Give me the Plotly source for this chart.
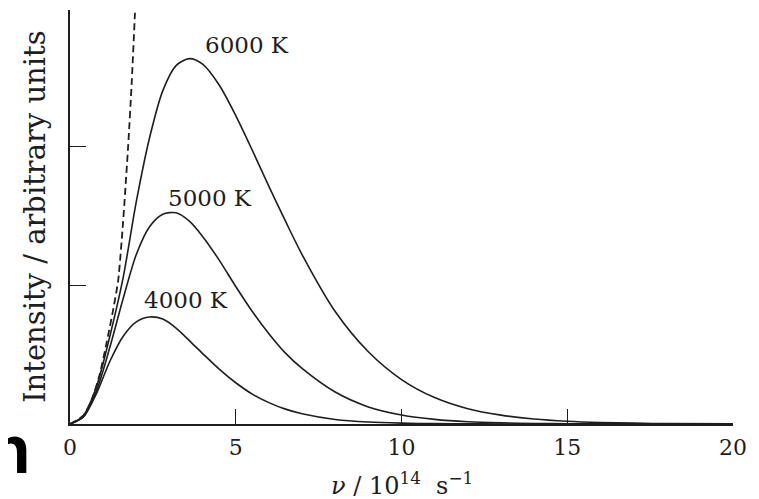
import plotly.graph_objects as go

# frequency grid (10^14 s^-1) and intensities (arbitrary units)
nu = [0, 0.4, 0.8, 1.2, 1.6, 2.0, 2.4, 2.8, 3.2, 3.6, 4.0, 4.5, 5.0, 5.5, 6.0,
      6.5, 7.0, 8.0, 9.0, 10, 11, 12, 13, 14, 15, 16, 17, 18, 20]
i6000 = [0, 0.06, 0.27, 0.63, 1.05, 1.60, 2.06, 2.40, 2.58, 2.63, 2.59, 2.44, 2.22, 1.97, 1.71,
         1.46, 1.22, 0.81, 0.52, 0.32, 0.19, 0.11, 0.064, 0.036, 0.02, 0.011, 0.006, 0.003, 0.001]
i5000 = [0, 0.05, 0.24, 0.55, 0.90, 1.22, 1.42, 1.51, 1.52, 1.46, 1.35, 1.18, 0.99, 0.81, 0.65,
         0.51, 0.40, 0.23, 0.123, 0.065, 0.033, 0.016, 0.008, 0.004, 0.002, 0.001, 0.0005, 0.0002, 0]
i4000 = [0, 0.05, 0.22, 0.45, 0.63, 0.735, 0.77, 0.755, 0.69, 0.60, 0.507, 0.395, 0.297, 0.215, 0.154,
         0.107, 0.074, 0.033, 0.014, 0.006, 0.0024, 0.0009, 0.0003, 0.0001, 0, 0, 0, 0, 0]

# dashed classical curve
nu_rj = [0, 0.4, 0.65, 0.9, 1.1, 1.3, 1.455, 1.6, 1.756, 1.86, 1.96]
i_rj = [0, 0.06, 0.17, 0.36, 0.58, 0.82, 1.036, 1.45, 2.007, 2.45, 2.96]

labels = ["6000 K", "5000 K", "4000 K"]
label_x = [5.33, 4.22, 3.5]
label_y = [2.73, 1.63, 0.89]

xticks = [0, 5, 10, 15, 20]
yticks = [1, 2]

x_title = "<i>ν</i> / 10<sup>14</sup>  s<sup>−1</sup>"
y_title = "Intensity / arbitrary units"

ink = "#1e1e1e"
serif = "DejaVu Serif"

fig = go.Figure()
for ys in (i6000, i5000, i4000):
    fig.add_trace(go.Scatter(x=nu, y=ys, mode="lines",
                             line=dict(color=ink, width=1.6, shape="spline", smoothing=0.8),
                             showlegend=False, hoverinfo="skip"))
fig.add_trace(go.Scatter(x=nu_rj, y=i_rj, mode="lines",
                         line=dict(color=ink, width=1.8, dash="7px,4px", shape="spline", smoothing=0.6),
                         showlegend=False, hoverinfo="skip"))

for t, x, y in zip(labels, label_x, label_y):
    fig.add_annotation(x=x, y=y, text=t, showarrow=False,
                       font=dict(family=serif, size=23, color=ink))

# axis titles
fig.add_annotation(xref="paper", yref="paper", x=0.5, y=-0.145, text=x_title,
                   showarrow=False, xanchor="center", yanchor="middle",
                   font=dict(family=serif, size=24, color=ink))
fig.add_annotation(xref="paper", yref="paper", x=-0.053, y=0.5, text=y_title,
                   showarrow=False, textangle=-90, xanchor="center", yanchor="middle",
                   font=dict(family=serif, size=29, color=ink))

# clipped glyph at the lower-left edge of the scan
fig.add_annotation(xref="paper", yref="paper", x=-0.056, y=-0.06, text="<b>n</b>",
                   xanchor="right", yanchor="middle", showarrow=False,
                   font=dict(family="Liberation Sans", size=68, color="#000000"))

# the page body adds an 8 px offset, so margins are reduced by 8 px on the left/top
fig.update_layout(
    width=759, height=499,
    margin=dict(l=62, r=34, t=2, b=83),
    paper_bgcolor="white", plot_bgcolor="white",
    xaxis=dict(range=[0, 20], tickvals=xticks, ticktext=[str(v) for v in xticks],
               ticks="inside", ticklen=15, tickwidth=1.3, tickcolor=ink,
               showline=True, linecolor=ink, linewidth=2, showgrid=False, zeroline=False,
               tickfont=dict(family=serif, size=22, color=ink), ticklabelstandoff=3,
               automargin=False),
    yaxis=dict(range=[0, 2.98], tickvals=yticks, showticklabels=False,
               ticks="inside", ticklen=16, tickwidth=1.3, tickcolor=ink,
               showline=True, linecolor=ink, linewidth=2, showgrid=False, zeroline=False,
               automargin=False),
)

fig.write_html("out.html")
